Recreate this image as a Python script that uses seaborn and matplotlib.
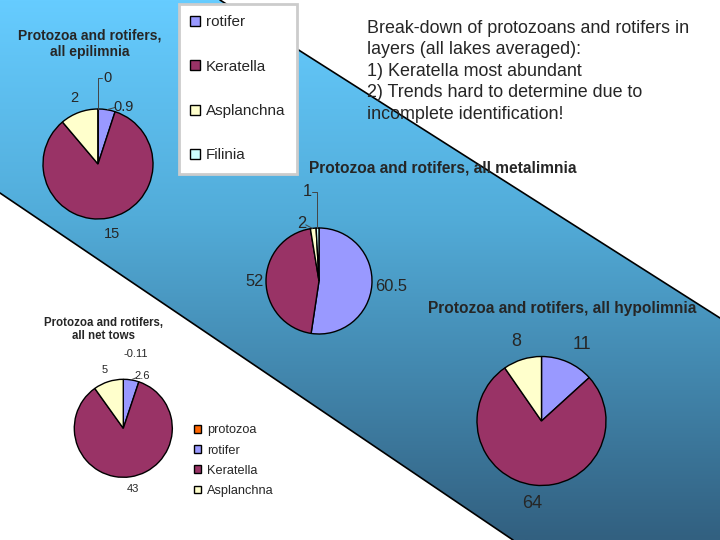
import numpy as np
import matplotlib
matplotlib.use("Agg")
import matplotlib.pyplot as plt
import seaborn as sns
from matplotlib.patches import Polygon, Patch
from matplotlib.colors import LinearSegmentedColormap

# values
top_species = ["rotifer", "Keratella", "Asplanchna", "Filinia"]
epi_vals = [0.9, 15, 2, 0]
epi_text = ["0.9", "15", "2", "0"]

meta_vals = [60.5, 52, 2, 1]
meta_text = ["60.5", "52", "2", "1"]

hypo_species = ["rotifer", "Keratella", "Asplanchna"]
hypo_vals = [11, 64, 8]
hypo_text = ["11", "64", "8"]

net_species = ["protozoa", "rotifer", "Keratella", "Asplanchna"]
net_vals = [-0.11, 2.6, 43, 5]
net_text = ["-0.11", "2.6", "43", "5"]

note = ("Break-down of protozoans and rotifers in\n"
        "layers (all lakes averaged):\n"
        "1) Keratella most abundant\n"
        "2) Trends hard to determine due to\n"
        "incomplete identification!")

sns.set_style("white")
plt.rcParams["font.family"] = ["Liberation Sans", "DejaVu Sans"]

pal = dict(zip(["protozoa", "rotifer", "Keratella", "Asplanchna", "Filinia"],
               sns.color_palette(["#FF6600", "#9999FF", "#993366", "#FFFFCC", "#CCFFFF"])))

W, H = 720, 540
fig = plt.figure(figsize=(7.2, 5.4), dpi=100)

# background band with vertical gradient
bg = fig.add_axes([0, 0, 1, 1])
band = Polygon([(0, 0), (220, 0), (720, 318), (720, 540), (513, 540), (0, 193)],
               closed=True, facecolor="none", edgecolor="none")
bg.add_patch(band)
cmap = LinearSegmentedColormap.from_list(
    "band", [(0, "#66ccff"), (0.4, "#52acd9"), (1, "#326080")])
grad = np.linspace(0, 1, 256).reshape(-1, 1)
im = bg.imshow(grad, cmap=cmap, extent=(0, W, H, 0), aspect="auto")
im.set_clip_path(band)
bg.plot([220, 720], [0, 318], color="black", lw=1.2)
bg.plot([0, 513], [193, 540], color="black", lw=1.2)
bg.set_xlim(0, W)
bg.set_ylim(H, 0)
bg.set_axis_off()


def pie_axes(cx, cy, r):
    return fig.add_axes([(cx - r) / W, 1 - (cy + r) / H, 2 * r / W, 2 * r / H])


def draw_pie(ax, vals, species):
    wedges, _ = ax.pie(np.clip(vals, 0, None), colors=[pal[s] for s in species],
                       startangle=90, counterclock=False,
                       wedgeprops=dict(edgecolor="black", linewidth=1, clip_on=False))
    ax.set_xlim(-1, 1)
    ax.set_ylim(-1, 1)
    ax.set_axis_off()
    return wedges


def label(ax, wedge, txt, size, dist=1.3, at=None, leader=None):
    if at is None:
        a = np.deg2rad((wedge.theta1 + wedge.theta2) / 2)
        at = (dist * np.cos(a), dist * np.sin(a))
    ax.text(at[0], at[1], txt, ha="center", va="center", fontsize=size, clip_on=False)
    if leader is not None:
        ax.plot(leader[0], leader[1], color="#444444", lw=0.7, clip_on=False)


# epilimnia
ax1 = pie_axes(98, 164, 55)
w = draw_pie(ax1, epi_vals, top_species)
label(ax1, w[0], epi_text[0], 10.5, at=(0.47, 1.04), leader=([0.17, 0.32], [0.99, 1.03]))
label(ax1, w[1], epi_text[1], 10.5, dist=1.29)
label(ax1, w[2], epi_text[2], 10.5, dist=1.27)
label(ax1, w[3], epi_text[3], 10.5, at=(0.17, 1.57), leader=([0, 0, 0.07], [1.0, 1.57, 1.57]))
bg.text(90, 43.5, "Protozoa and rotifers,\nall epilimnia", ha="center", va="center",
        fontsize=10, fontweight="bold")

# metalimnia
ax2 = pie_axes(319, 281, 53)
w = draw_pie(ax2, meta_vals, top_species)
label(ax2, w[0], meta_text[0], 11.8, dist=1.36)
label(ax2, w[1], meta_text[1], 11.8, dist=1.22)
label(ax2, w[2], meta_text[2], 11.8, at=(-0.32, 1.08), leader=([-0.25, -0.12], [1.06, 0.99]))
label(ax2, w[3], meta_text[3], 11.8, at=(-0.23, 1.68),
      leader=([-0.13, -0.04, -0.04], [1.68, 1.68, 1.0]))
bg.text(443, 168, "Protozoa and rotifers, all metalimnia", ha="center", va="center",
        fontsize=11.2, fontweight="bold")

# hypolimnia
ax3 = pie_axes(541.5, 421, 64.5)
w = draw_pie(ax3, hypo_vals, hypo_species)
label(ax3, w[0], hypo_text[0], 13, at=(0.63, 1.18))
label(ax3, w[1], hypo_text[1], 13, dist=1.29)
label(ax3, w[2], hypo_text[2], 13, dist=1.29)
bg.text(562, 309, "Protozoa and rotifers, all hypolimnia", ha="center", va="center",
        fontsize=11.2, fontweight="bold")

# net tows
ax4 = pie_axes(123.3, 428.3, 49)
w = draw_pie(ax4, net_vals, net_species)
label(ax4, w[0], net_text[0], 8, at=(0.25, 1.52))
label(ax4, w[1], net_text[1], 8, at=(0.39, 1.07), leader=([0.16, 0.26], [0.99, 1.03]))
label(ax4, w[2], net_text[2], 8, dist=1.26)
label(ax4, w[3], net_text[3], 8, dist=1.24)
bg.text(104, 329.5, "Protozoa and rotifers,\nall net tows", ha="center", va="center",
        fontsize=8.3, fontweight="bold")

# legends
top_handles = [Patch(facecolor=pal[s], edgecolor="black", lw=1) for s in top_species]
leg = fig.legend(top_handles, top_species, loc="upper left",
                 bbox_to_anchor=(179 / W, 1 - 4 / H), fontsize=11,
                 handlelength=0.62, handleheight=0.62, handletextpad=0.4,
                 labelspacing=1.98, borderpad=0.75, borderaxespad=0,
                 fancybox=False, framealpha=1, edgecolor="#cccccc")
leg.get_frame().set_linewidth(2)

net_handles = [Patch(facecolor=pal[s], edgecolor="black", lw=1) for s in net_species]
fig.legend(net_handles, net_species, loc="upper left",
           bbox_to_anchor=(194 / W, 1 - 424.5 / H), fontsize=9.2,
           handlelength=0.55, handleheight=0.55, handletextpad=0.47,
           labelspacing=0.64, borderpad=0, borderaxespad=0, frameon=False)

# annotation text
bg.text(367, 20, note, ha="left", va="top", fontsize=12.9, linespacing=1.345)

fig.savefig("out.png", dpi=100)
